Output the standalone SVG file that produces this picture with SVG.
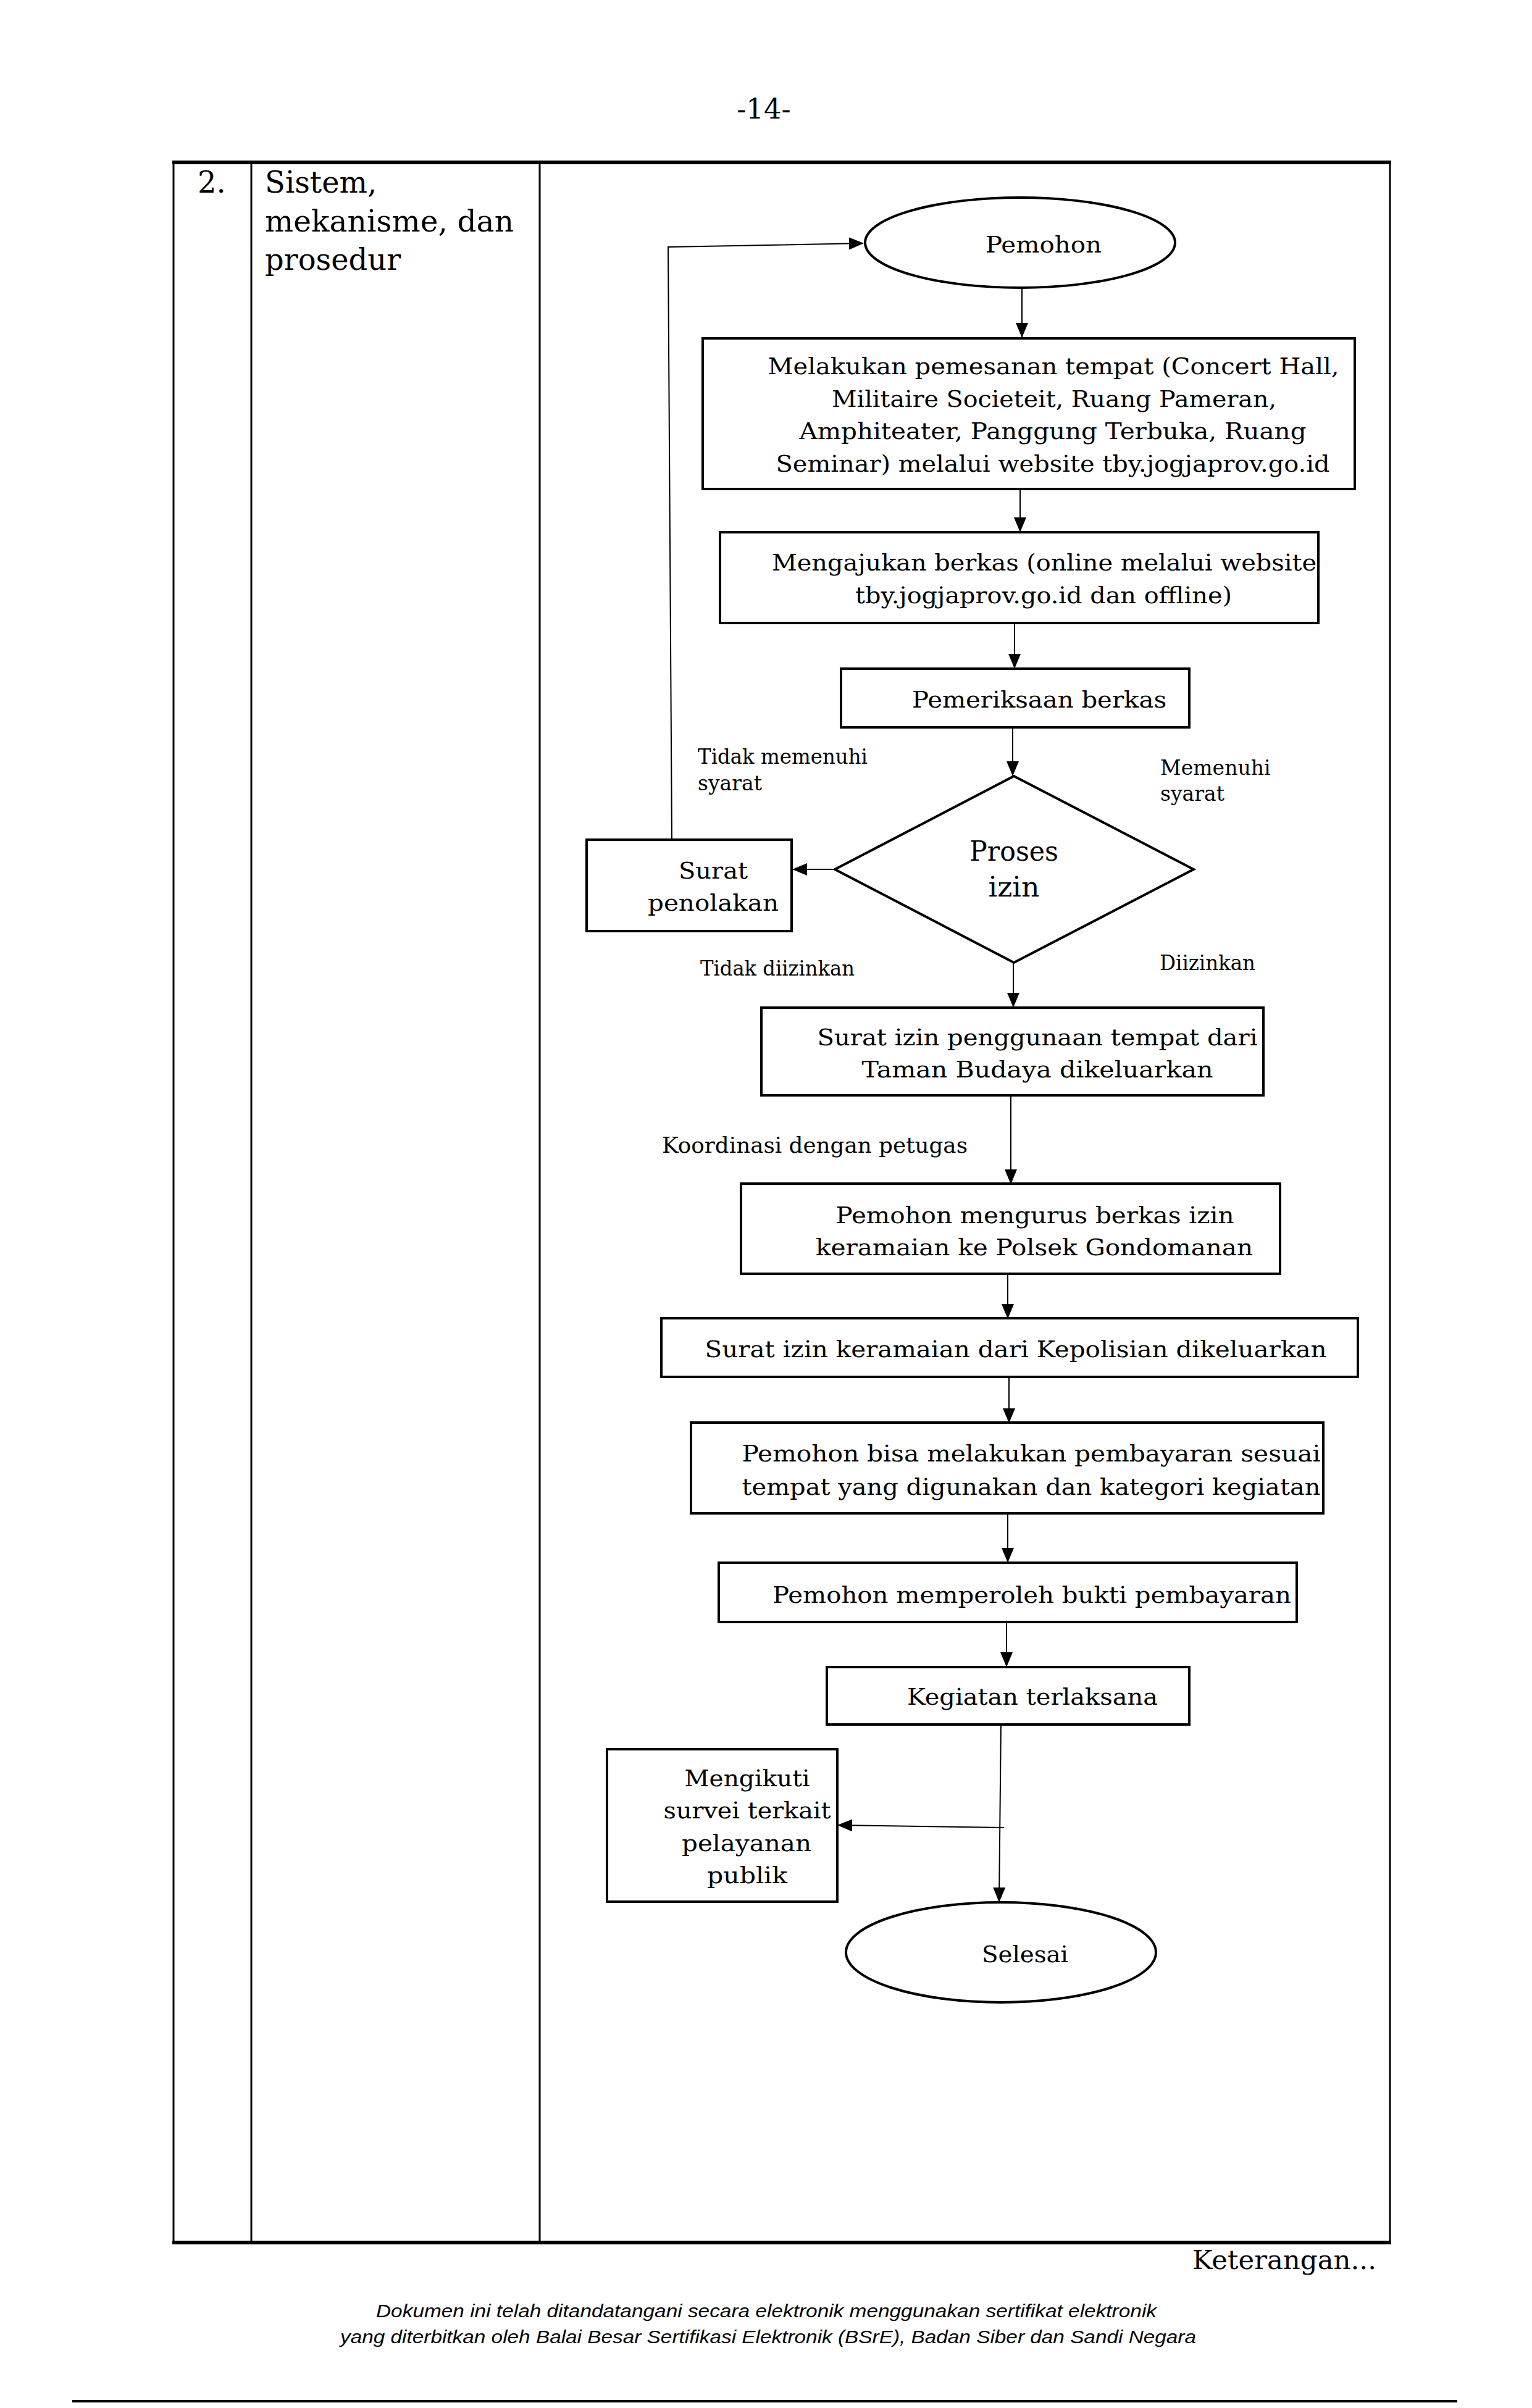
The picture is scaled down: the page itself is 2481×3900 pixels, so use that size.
<svg xmlns="http://www.w3.org/2000/svg" width="2481" height="3900" viewBox="0 0 2481 3900">
<defs>
<style>
.t{font-family:"DejaVu Serif","Liberation Serif",serif;fill:#000}
.b{font-size:38px;text-anchor:middle}
.d{font-size:44px;text-anchor:middle}
.l{font-size:33px}
.h{font-size:48px}
.box{fill:#fff;stroke:#000;stroke-width:4}
.c{fill:none;stroke:#000;stroke-width:2}
.tb{stroke:#000;stroke-width:3}
.tbk{stroke:#000;stroke-width:6}
.f{font-family:"Liberation Sans",Arial,sans-serif;font-style:italic;font-size:29px;text-anchor:middle;fill:#000}
</style>
<marker id="ah" markerUnits="userSpaceOnUse" markerWidth="24" markerHeight="20" refX="23" refY="10" orient="auto">
<path d="M0,0 L24,10 L0,20 Z" fill="#000"/>
</marker>
</defs>
<rect width="2481" height="3900" fill="#fff"/>
<text class="t" x="1237" y="192" font-size="45" text-anchor="middle">-14-</text>
<g id="table">
<line class="tbk" x1="279" y1="263" x2="2253" y2="263"/>
<line class="tbk" x1="279" y1="3632" x2="2253" y2="3632"/>
<line class="tb" x1="281" y1="263" x2="281" y2="3632"/>
<line class="tb" x1="407" y1="263" x2="407" y2="3632"/>
<line class="tb" x1="874" y1="263" x2="874" y2="3632"/>
<line class="tb" x1="2251" y1="263" x2="2251" y2="3632"/>
<text class="t h" x="320" y="312">2.</text>
<text class="t h" x="429" y="312">Sistem,</text>
<text class="t h" x="429" y="375" textLength="403" lengthAdjust="spacingAndGlyphs">mekanisme, dan</text>
<text class="t h" x="429" y="437">prosedur</text>
</g>
<g id="connectors">
<line class="c" x1="1655" y1="467" x2="1655" y2="546" marker-end="url(#ah)"/>
<line class="c" x1="1652" y1="792" x2="1652" y2="861" marker-end="url(#ah)"/>
<line class="c" x1="1643" y1="1009" x2="1643" y2="1082" marker-end="url(#ah)"/>
<line class="c" x1="1640" y1="1179" x2="1640" y2="1256" marker-end="url(#ah)"/>
<line class="c" x1="1352" y1="1408" x2="1284" y2="1408" marker-end="url(#ah)"/>
<line class="c" x1="1641" y1="1559" x2="1641" y2="1631" marker-end="url(#ah)"/>
<line class="c" x1="1637" y1="1772" x2="1637" y2="1917" marker-end="url(#ah)"/>
<line class="c" x1="1632" y1="2063" x2="1632" y2="2135" marker-end="url(#ah)"/>
<line class="c" x1="1634" y1="2230" x2="1634" y2="2304" marker-end="url(#ah)"/>
<line class="c" x1="1632" y1="2451" x2="1632" y2="2530" marker-end="url(#ah)"/>
<line class="c" x1="1630" y1="2627" x2="1630" y2="2699" marker-end="url(#ah)"/>
<line class="c" x1="1621" y1="2789" x2="1618" y2="3080" marker-end="url(#ah)"/>
<line class="c" x1="1626" y1="2960" x2="1357" y2="2956" marker-end="url(#ah)"/>
<polyline class="c" points="1088,1360 1082,400 1398,394" marker-end="url(#ah)"/>
</g>
<g id="labels">
<text class="t l" x="1130" y="1237" textLength="275" lengthAdjust="spacingAndGlyphs">Tidak memenuhi</text>
<text class="t l" x="1130" y="1280">syarat</text>
<text class="t l" x="1879" y="1255">Memenuhi</text>
<text class="t l" x="1879" y="1297">syarat</text>
<text class="t l" x="1134" y="1580" textLength="250" lengthAdjust="spacingAndGlyphs">Tidak diizinkan</text>
<text class="t l" x="1878" y="1571" textLength="155" lengthAdjust="spacingAndGlyphs">Diizinkan</text>
<text class="t" x="1072" y="1867" font-size="36" textLength="495" lengthAdjust="spacingAndGlyphs">Koordinasi dengan petugas</text>
</g>
<g id="n-pemohon">
<ellipse class="box" cx="1652" cy="393" rx="251" ry="73"/>
<text class="t b" x="1690" y="409" textLength="188" lengthAdjust="spacingAndGlyphs">Pemohon</text>
</g>
<g id="n-pemesanan">
<rect class="box" x="1138" y="548" width="1056" height="244"/>
<text class="t b" x="1706" y="606" textLength="925" lengthAdjust="spacingAndGlyphs">Melakukan pemesanan tempat (Concert Hall,</text>
<text class="t b" x="1707" y="659" textLength="720" lengthAdjust="spacingAndGlyphs">Militaire Societeit, Ruang Pameran,</text>
<text class="t b" x="1705" y="711" textLength="821" lengthAdjust="spacingAndGlyphs">Amphiteater, Panggung Terbuka, Ruang</text>
<text class="t b" x="1705" y="764" textLength="897" lengthAdjust="spacingAndGlyphs">Seminar) melalui website tby.jogjaprov.go.id</text>
</g>
<g id="n-mengajukan">
<rect class="box" x="1166" y="862" width="969" height="147"/>
<text class="t b" x="1691" y="924" textLength="882" lengthAdjust="spacingAndGlyphs">Mengajukan berkas (online melalui website</text>
<text class="t b" x="1690" y="977" textLength="610" lengthAdjust="spacingAndGlyphs">tby.jogjaprov.go.id dan offline)</text>
</g>
<g id="n-pemeriksaan">
<rect class="box" x="1362" y="1083" width="564" height="95"/>
<text class="t b" x="1683" y="1146" textLength="412" lengthAdjust="spacingAndGlyphs">Pemeriksaan berkas</text>
</g>
<g id="n-proses">
<polygon class="box" points="1642,1257 1933,1408 1642,1559 1352,1408"/>
<text class="t d" x="1642" y="1394" textLength="144" lengthAdjust="spacingAndGlyphs">Proses</text>
<text class="t d" x="1642" y="1452" textLength="83" lengthAdjust="spacingAndGlyphs">izin</text>
</g>
<g id="n-penolakan">
<rect class="box" x="950" y="1360" width="332" height="148"/>
<text class="t b" x="1155" y="1423" textLength="112" lengthAdjust="spacingAndGlyphs">Surat</text>
<text class="t b" x="1155" y="1475" textLength="212" lengthAdjust="spacingAndGlyphs">penolakan</text>
</g>
<g id="n-izin-tempat">
<rect class="box" x="1233" y="1632" width="813" height="142"/>
<text class="t b" x="1680" y="1693" textLength="713" lengthAdjust="spacingAndGlyphs">Surat izin penggunaan tempat dari</text>
<text class="t b" x="1680" y="1745" textLength="569" lengthAdjust="spacingAndGlyphs">Taman Budaya dikeluarkan</text>
</g>
<g id="n-mengurus">
<rect class="box" x="1200" y="1917" width="873" height="146"/>
<text class="t b" x="1676" y="1981" textLength="645" lengthAdjust="spacingAndGlyphs">Pemohon mengurus berkas izin</text>
<text class="t b" x="1675" y="2033" textLength="708" lengthAdjust="spacingAndGlyphs">keramaian ke Polsek Gondomanan</text>
</g>
<g id="n-izin-keramaian">
<rect class="box" x="1071" y="2135" width="1128" height="95"/>
<text class="t b" x="1645" y="2198" textLength="1007" lengthAdjust="spacingAndGlyphs">Surat izin keramaian dari Kepolisian dikeluarkan</text>
</g>
<g id="n-pembayaran">
<rect class="box" x="1119" y="2304" width="1024" height="147"/>
<text class="t b" x="1670" y="2367" textLength="937" lengthAdjust="spacingAndGlyphs">Pemohon bisa melakukan pembayaran sesuai</text>
<text class="t b" x="1670" y="2421" textLength="937" lengthAdjust="spacingAndGlyphs">tempat yang digunakan dan kategori kegiatan</text>
</g>
<g id="n-bukti">
<rect class="box" x="1164" y="2531" width="936" height="96"/>
<text class="t b" x="1671" y="2596" textLength="840" lengthAdjust="spacingAndGlyphs">Pemohon memperoleh bukti pembayaran</text>
</g>
<g id="n-kegiatan">
<rect class="box" x="1339" y="2700" width="587" height="93"/>
<text class="t b" x="1672" y="2761" textLength="406" lengthAdjust="spacingAndGlyphs">Kegiatan terlaksana</text>
</g>
<g id="n-survei">
<rect class="box" x="983" y="2833" width="373" height="247"/>
<text class="t b" x="1210" y="2893" textLength="203" lengthAdjust="spacingAndGlyphs">Mengikuti</text>
<text class="t b" x="1210" y="2945" textLength="271" lengthAdjust="spacingAndGlyphs">survei terkait</text>
<text class="t b" x="1209" y="2998" textLength="210" lengthAdjust="spacingAndGlyphs">pelayanan</text>
<text class="t b" x="1210" y="3050" textLength="130" lengthAdjust="spacingAndGlyphs">publik</text>
</g>
<g id="n-selesai">
<ellipse class="box" cx="1621" cy="3162" rx="251" ry="81"/>
<text class="t b" x="1660" y="3178" textLength="140" lengthAdjust="spacingAndGlyphs">Selesai</text>
</g>
<text class="t" x="1931" y="3675" font-size="43" textLength="298" lengthAdjust="spacingAndGlyphs">Keterangan...</text>
<text class="f" x="1241" y="3753" textLength="1264" lengthAdjust="spacingAndGlyphs">Dokumen ini telah ditandatangani secara elektronik menggunakan sertifikat elektronik</text>
<text class="f" x="1244" y="3795" textLength="1386" lengthAdjust="spacingAndGlyphs">yang diterbitkan oleh Balai Besar Sertifikasi Elektronik (BSrE), Badan Siber dan Sandi Negara</text>
<line x1="117" y1="3889" x2="2360" y2="3889" stroke="#000" stroke-width="4"/>
</svg>
